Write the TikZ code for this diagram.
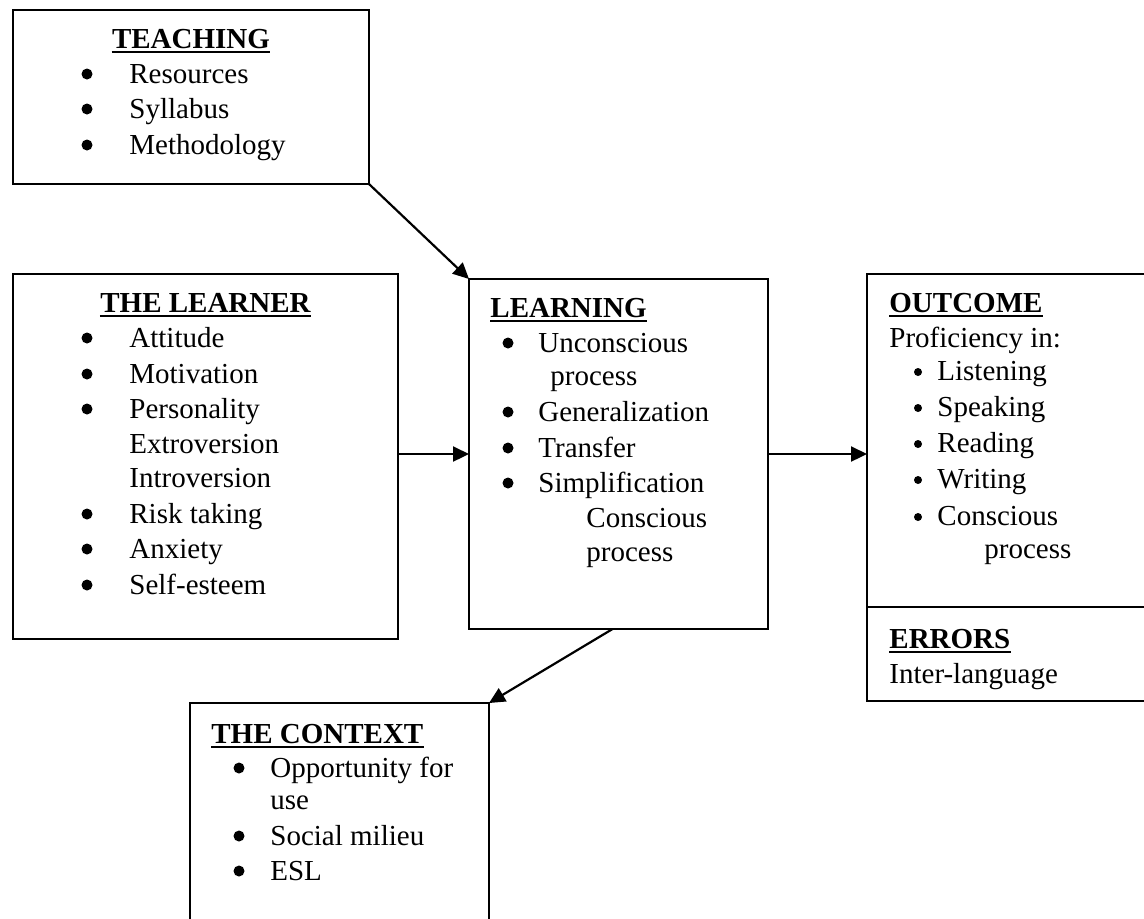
\documentclass[tikz,border=0pt]{standalone}
\usepackage{fontspec}
\setmainfont{Liberation Serif}
\usetikzlibrary{arrows.meta,fit,calc}
% filled list bullet: x, y (centre), radius
\newcommand\bulletdot[3]{\fill (#1,#2) circle[radius=#3];}
% heavy rule under a heading node
\newcommand\headrule[1]{\draw[line width=1pt] ([yshift=-2pt]#1.base west) -- ([yshift=-2pt]#1.base east);}
\begin{document}
\begin{tikzpicture}[x=0.5pt,y=-0.5pt,
  box/.style={draw,line width=1.1pt,inner sep=0pt,outer sep=0pt,rectangle},
  txt/.style={anchor=base west,inner sep=0pt,font=\fontsize{14.5}{17}\selectfont},
  head/.style={txt,font=\fontsize{14.5}{17}\selectfont\bfseries},
  arr/.style={line width=1.1pt,-{Triangle[length=8pt,width=7.5pt]}}]
\useasboundingbox (0,0) rectangle (1144,918);
\clip (0,0) rectangle (1144,918);

% ---- boxes
\node[box,fit={(13,10) (369,184)}] (teaching) {};
\node[box,fit={(13,274) (398,639)}] (learner) {};
\node[box,fit={(469,279) (768,629)}] (learning) {};
\node[box,fit={(867,274) (1170,701)}] (outcome) {};
\node[box,fit={(190,703) (489,960)}] (context) {};
\draw[line width=1.1pt] (outcome.west |- 0,607) -- (outcome.east |- 0,607);

% ---- TEACHING
\node[head,anchor=base] (tchH) at (191,48) {TEACHING};
\headrule{tchH}
\foreach \y/\t [count=\i] in {83/Resources,118/Syllabus,154/Methodology}{
  \bulletdot{87}{\y-9}{5.5}
  \node[txt] (tch\i) at (129,\y) {\t};
}

% ---- THE LEARNER
\node[head,anchor=base] (lrnH) at (205.5,312) {THE LEARNER};
\headrule{lrnH}
\foreach \y/\t [count=\i] in {347/Attitude,383/Motivation,418/Personality,523/Risk taking,558/Anxiety,594/Self-esteem}{
  \bulletdot{87}{\y-9}{5.5}
  \node[txt] (lrn\i) at (129,\y) {\t};
}
\node[txt] (lrnE) at (129,453) {Extroversion};
\node[txt] (lrnI) at (129,487) {Introversion};

% ---- LEARNING
\node[head] (lngH) at (490,317) {LEARNING};
\headrule{lngH}
\foreach \y/\t [count=\i] in {352/Unconscious,421/Generalization,457/Transfer,492/Simplification}{
  \bulletdot{508}{\y-9}{5.5}
  \node[txt] (lng\i) at (538,\y) {\t};
}
\node[txt] (lngP) at (550,385) {process};
\node[txt] (lngC) at (586,527) {Conscious};
\node[txt] (lngQ) at (586,561) {process};

% ---- OUTCOME / ERRORS
\node[head] (outH) at (889,312) {OUTCOME};
\headrule{outH}
\node[txt] (outP) at (889,347) {Proficiency in:};
\foreach \y/\t [count=\i] in {380/Listening,416/Speaking,452/Reading,488/Writing,525/Conscious}{
  \bulletdot{918}{\y-8}{4}
  \node[txt] (out\i) at (937,\y) {\t};
}
\node[txt] (outQ) at (984,558) {process};
\node[head] (errH) at (889,648) {ERRORS};
\headrule{errH}
\node[txt] (errT) at (889,683) {Inter-language};

% ---- THE CONTEXT
\node[head] (ctxH) at (211,743) {THE CONTEXT};
\headrule{ctxH}
\foreach \y/\t [count=\i] in {777/Opportunity for,845/Social milieu,880/ESL}{
  \bulletdot{239}{\y-9}{5.5}
  \node[txt] (ctx\i) at (270,\y) {\t};
}
\node[txt] (ctxU) at (270,809) {use};

% ---- connectors
\draw[arr] (teaching.south east) -- (learning.north west);
\draw[arr] (learner.east |- learning.west) -- (learning.west);
\draw[arr] (learning.east) -- (outcome.west |- learning.east);
\coordinate (lngOut) at ($(learning.south west)!0.48!(learning.south east)$);
\draw[arr] (lngOut) -- (context.north east);
\end{tikzpicture}
\end{document}
